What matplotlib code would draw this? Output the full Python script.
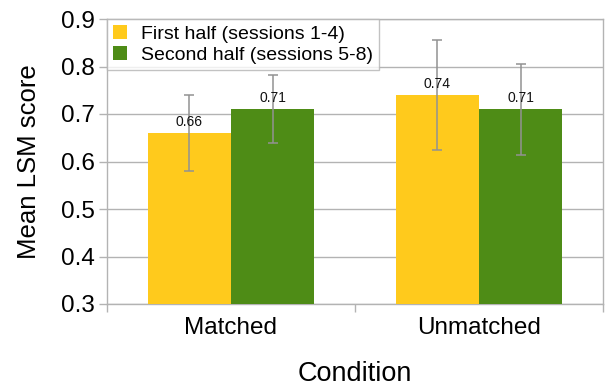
import matplotlib
matplotlib.use("Agg")
import matplotlib.pyplot as plt
import numpy as np

plt.rcParams['font.family'] = ['Liberation Sans', 'DejaVu Sans']

categories = ["Matched", "Unmatched"]
series_names = ["First half (sessions 1-4)", "Second half (sessions 5-8)"]
first_half = [0.66, 0.74]
second_half = [0.71, 0.71]
first_err = [0.08, 0.116]
second_err = [0.072, 0.096]
yticks = [0.3, 0.4, 0.5, 0.6, 0.7, 0.8, 0.9]

yellow = "#FFCA1C"
green = "#4E8C16"
gridc = "#b3b3b3"
errc = "#929292"

fig = plt.figure(figsize=(6.06, 3.88), dpi=100)
ax = fig.add_axes([107/606, (388-304)/388, (603-107)/606, (304-19)/388])

x = np.arange(len(categories))
w = 0.335
b1 = ax.bar(x - w/2, first_half, w, color=yellow, label=series_names[0], zorder=3)
b2 = ax.bar(x + w/2, second_half, w, color=green, label=series_names[1], zorder=3)
ax.errorbar(x - w/2, first_half, yerr=first_err, fmt='none', ecolor=errc,
            elinewidth=1.1, capsize=3.5, capthick=1.1, zorder=4)
ax.errorbar(x + w/2, second_half, yerr=second_err, fmt='none', ecolor=errc,
            elinewidth=1.1, capsize=3.5, capthick=1.1, zorder=4)

for xs, vals in ((x - w/2, first_half), (x + w/2, second_half)):
    for xi, v in zip(xs, vals):
        ax.annotate(f"{v:.2f}", (xi, v), xytext=(0, 3), textcoords="offset points",
                    ha="center", va="bottom", fontsize=10, color="#111111", zorder=5)

ax.set_xlim(-0.5, len(categories) - 0.5)
ax.set_ylim(0.3, 0.9)
ax.set_yticks(yticks)
ax.set_yticklabels([f"{t:.1f}" for t in yticks])
ax.yaxis.grid(True, color=gridc, linewidth=1.0, zorder=0)
ax.set_axisbelow(True)

ax.set_xticks(x)
ax.set_xticklabels(categories)
ax.set_xticks(np.arange(-0.5, len(categories)), minor=True)
ax.tick_params(axis='x', which='major', length=0, labelsize=17.5, pad=9)
ax.tick_params(axis='x', which='minor', length=6, color=gridc, width=1.0)
ax.tick_params(axis='y', length=6, color=gridc, width=1.0, labelsize=17.5, pad=3)

for s in ax.spines.values():
    s.set_color(gridc)
    s.set_linewidth(1.0)

ax.set_ylabel("Mean LSM score", fontsize=18.5, labelpad=14)
ax.set_xlabel("Condition", fontsize=19.5, labelpad=16)

leg = ax.legend(loc="upper left", bbox_to_anchor=(0, 1), borderaxespad=0,
                fontsize=14, frameon=True, fancybox=False, edgecolor=gridc,
                handlelength=0.75, handleheight=0.75, handletextpad=0.7,
                labelspacing=0.18, borderpad=0.3)
leg.get_frame().set_linewidth(1.0)

fig.savefig("out.png", dpi=100)
